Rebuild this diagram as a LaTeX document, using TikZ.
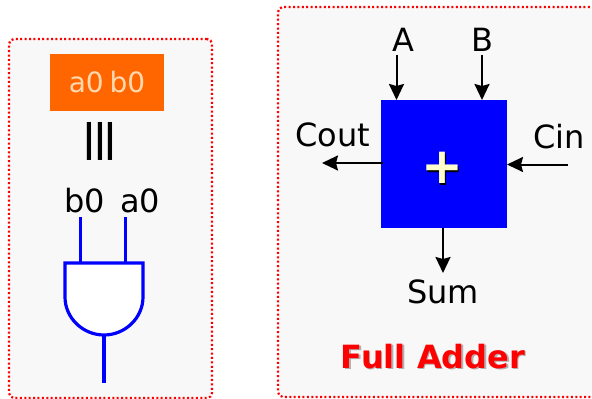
\documentclass[tikz,border=0pt]{standalone}
\usepackage{fontspec}
\setmainfont{DejaVu Sans}
\usetikzlibrary{arrows.meta}

\definecolor{panelgray}{HTML}{F8F8F8}
\definecolor{notorange}{HTML}{FF6600}
\definecolor{notlabel}{HTML}{FFD8B0}
\definecolor{pluscream}{HTML}{FFFFCC}
\definecolor{dropgray}{HTML}{B0B0B0}

\newcommand{\dropped}[2]{\rlap{\kern1.5pt\raisebox{-1.5pt}{\textcolor{#1}{#2}}}#2}

\tikzset{
	panel/.style={draw=red, fill=panelgray, line width=2.2pt, dash pattern=on 2pt off 2.4pt, rounded corners=5pt},
	signame/.style={font=\fontsize{32}{32}\selectfont, text=black, inner sep=0pt},
	wire/.style={draw=blue, line width=3.2pt},
	sig/.style={draw=black, line width=2pt, -{Stealth[length=16pt, width=15pt, inset=2pt]}},
}

\begin{document}
\begin{tikzpicture}[x=1pt, y=-1pt]
	\useasboundingbox (0, 0) rectangle (592, 399);

	\node[panel, minimum width=203pt, minimum height=359pt] (andpanel) at (110.5, 218.5) {};
	\node[panel, minimum width=330pt, minimum height=390pt] (addpanel) at (443, 202) {};

	% left side
	\node[fill=notorange, minimum width=114pt, minimum height=57pt, text=notlabel, font=\fontsize{28}{28}\selectfont] (notbox) at (107, 82.5) {a0\kern-3pt~b0};
	\node[font=\fontsize{38}{38}\bfseries\selectfont, inner sep=0pt] (same) at (100, 141) {|\kern-3.5pt|\kern-3.5pt|};
	\node[signame] (lblb0) at (85, 201) {b0};
	\node[signame] (lbla0) at (140, 201) {a0};

	\coordinate (pinb0) at (80.5, 217);
	\coordinate (pina0) at (125.5, 217);
	\coordinate (gateb0) at (80.5, 263);
	\coordinate (gatea0) at (125.5, 263);
	\coordinate (gateout) at (104, 335);
	\coordinate (pinout) at (104, 383);

	\draw[wire] (pinb0) -- (gateb0);
	\draw[wire] (pina0) -- (gatea0);
	\draw[wire] (gateout) -- (pinout);
	\draw[wire, fill=white] (65, 263) -- (143, 263) -- (143, 297) .. controls (143, 318) and (125, 335) .. (104, 335) .. controls (83, 335) and (65, 318) .. (65, 297) -- cycle;

	% right side
	\node[fill=blue, minimum width=126pt, minimum height=128pt, inner sep=0pt] (adder) at (444, 164) {};
	\node[text=pluscream, inner sep=0pt, font=\fontsize{50}{50}\bfseries\selectfont] (plus) at (442, 169) {\dropped{black}{+}};
	\node[signame] (lblA) at (403, 40) {A};
	\node[signame] (lblB) at (482, 40) {B};
	\node[signame] (lblCout) at (333, 135) {Cout};
	\node[signame] (lblCin) at (559, 137) {Cin};
	\node[signame] (lblSum) at (443, 292) {Sum};
	\node[text=red, inner sep=0pt, font=\fontsize{32}{32}\bfseries\selectfont] (title) at (433, 357) {\dropped{dropgray}{Full Adder}};

	\coordinate (startA) at (396.5, 55);
	\coordinate (endA) at (396.5, 100);
	\coordinate (startB) at (482, 55);
	\coordinate (endB) at (482, 100);
	\coordinate (startCout) at (383, 163);
	\coordinate (endCout) at (322, 163);
	\coordinate (startCin) at (568, 164.5);
	\coordinate (endCin) at (507, 164.5);
	\coordinate (startSum) at (443, 228);
	\coordinate (endSum) at (443, 273);

	\draw[sig] (startA) -- (endA);
	\draw[sig] (startB) -- (endB);
	\draw[sig] (startCout) -- (endCout);
	\draw[sig] (startCin) -- (endCin);
	\draw[sig] (startSum) -- (endSum);

\end{tikzpicture}
\end{document}
